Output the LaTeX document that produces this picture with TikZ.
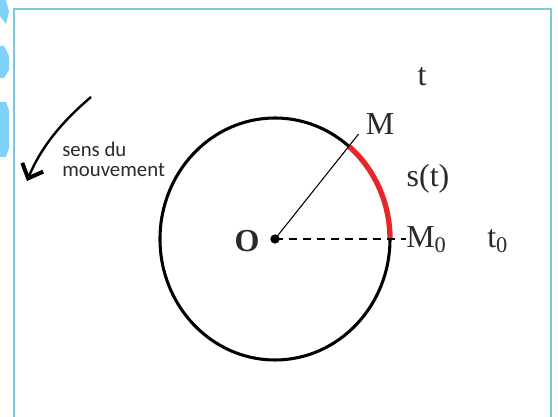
\documentclass[tikz,border=0pt]{standalone}
\usepackage{fontspec}
\setmainfont{Liberation Serif}
\newfontfamily\calib{Carlito}
\usetikzlibrary{calc,arrows.meta}
\definecolor{frameblue}{HTML}{7CC8DC}
\definecolor{blobblue}{HTML}{7FD2F6}
\definecolor{arcred}{HTML}{E8262A}
\definecolor{txtgray}{HTML}{2A2A2A}
\begin{document}
\begin{tikzpicture}[x=0.75pt,y=-0.75pt,
  lbl/.style={font=\fontsize{24}{28}\selectfont, inner sep=0pt, text=txtgray},
  note/.style={font=\calib\fontsize{15.6}{15}\selectfont, align=left, inner sep=0pt, anchor=north west, text=txtgray},
  blob/.style={fill=blobblue, draw=none},
  circ/.style={line width=2.3pt},
  frame/.style={draw=frameblue, line width=1.5pt}]
\useasboundingbox (0,0) rectangle (558,417);
\fill[white] (0,0) rectangle (558,417);
% left decorations
\fill[blob] (0,0) -- (6,0) -- (9,12) -- (6,24) -- (0,16) -- cycle;
\fill[blob] (0,46) -- (4,46) -- (9,56) -- (9,70) -- (4,78) -- (0,78) -- cycle;
\fill[blob] (0,102) -- (6,102) -- (9,110) -- (9,148) -- (6,157) -- (0,157) -- cycle;
% frame
\draw[frame] (14,420) -- (14,9) -- (551,9) -- (551,420);
% geometry
\coordinate (O) at (275,239);
\coordinate (M0) at ($(O)+(0:115 and 121)$);
\coordinate (M) at ($(O)+(-50:115 and 121)$);
\coordinate (Mext) at ($(O)+(-50:130 and 137)$);
\coordinate (dend) at (406,239);
\draw[circ] (O) ellipse[x radius=115, y radius=121];
\draw[arcred, line width=4pt] (M0) arc[start angle=0, end angle=-50, x radius=115, y radius=121];
\draw[line width=0.8pt] (O) -- (Mext);
\draw[line width=1pt, dash pattern=on 6pt off 4.5pt] (O) -- (dend);
\node[circle, fill=black, inner sep=0pt, minimum size=7pt] (dot) at (O) {};
% labels
\node[lbl] (lO) at (247,241) {\textbf{O}};
\node[lbl] (lM) at (380,124) {M};
\node[lbl] (ls) at (428,179) {s(t)};
\node[lbl, anchor=west] (lM0) at (406,240) {M\textsubscript{0}};
\node[lbl, anchor=west] (lt0) at (487,241) {t\textsubscript{0}};
\node[lbl] (lt) at (422,77) {t};
% movement arrow
\coordinate (aS) at (91,97);
\coordinate (aE) at (27,181);
\draw[line width=1.8pt, -{Straight Barb[length=9pt,width=17pt,line width=3pt]}] (aS) .. controls (64,120) and (42,145) .. (aE);
\node[note] (txt) at (62,142) {sens du\\mouvement};
\end{tikzpicture}
\end{document}
